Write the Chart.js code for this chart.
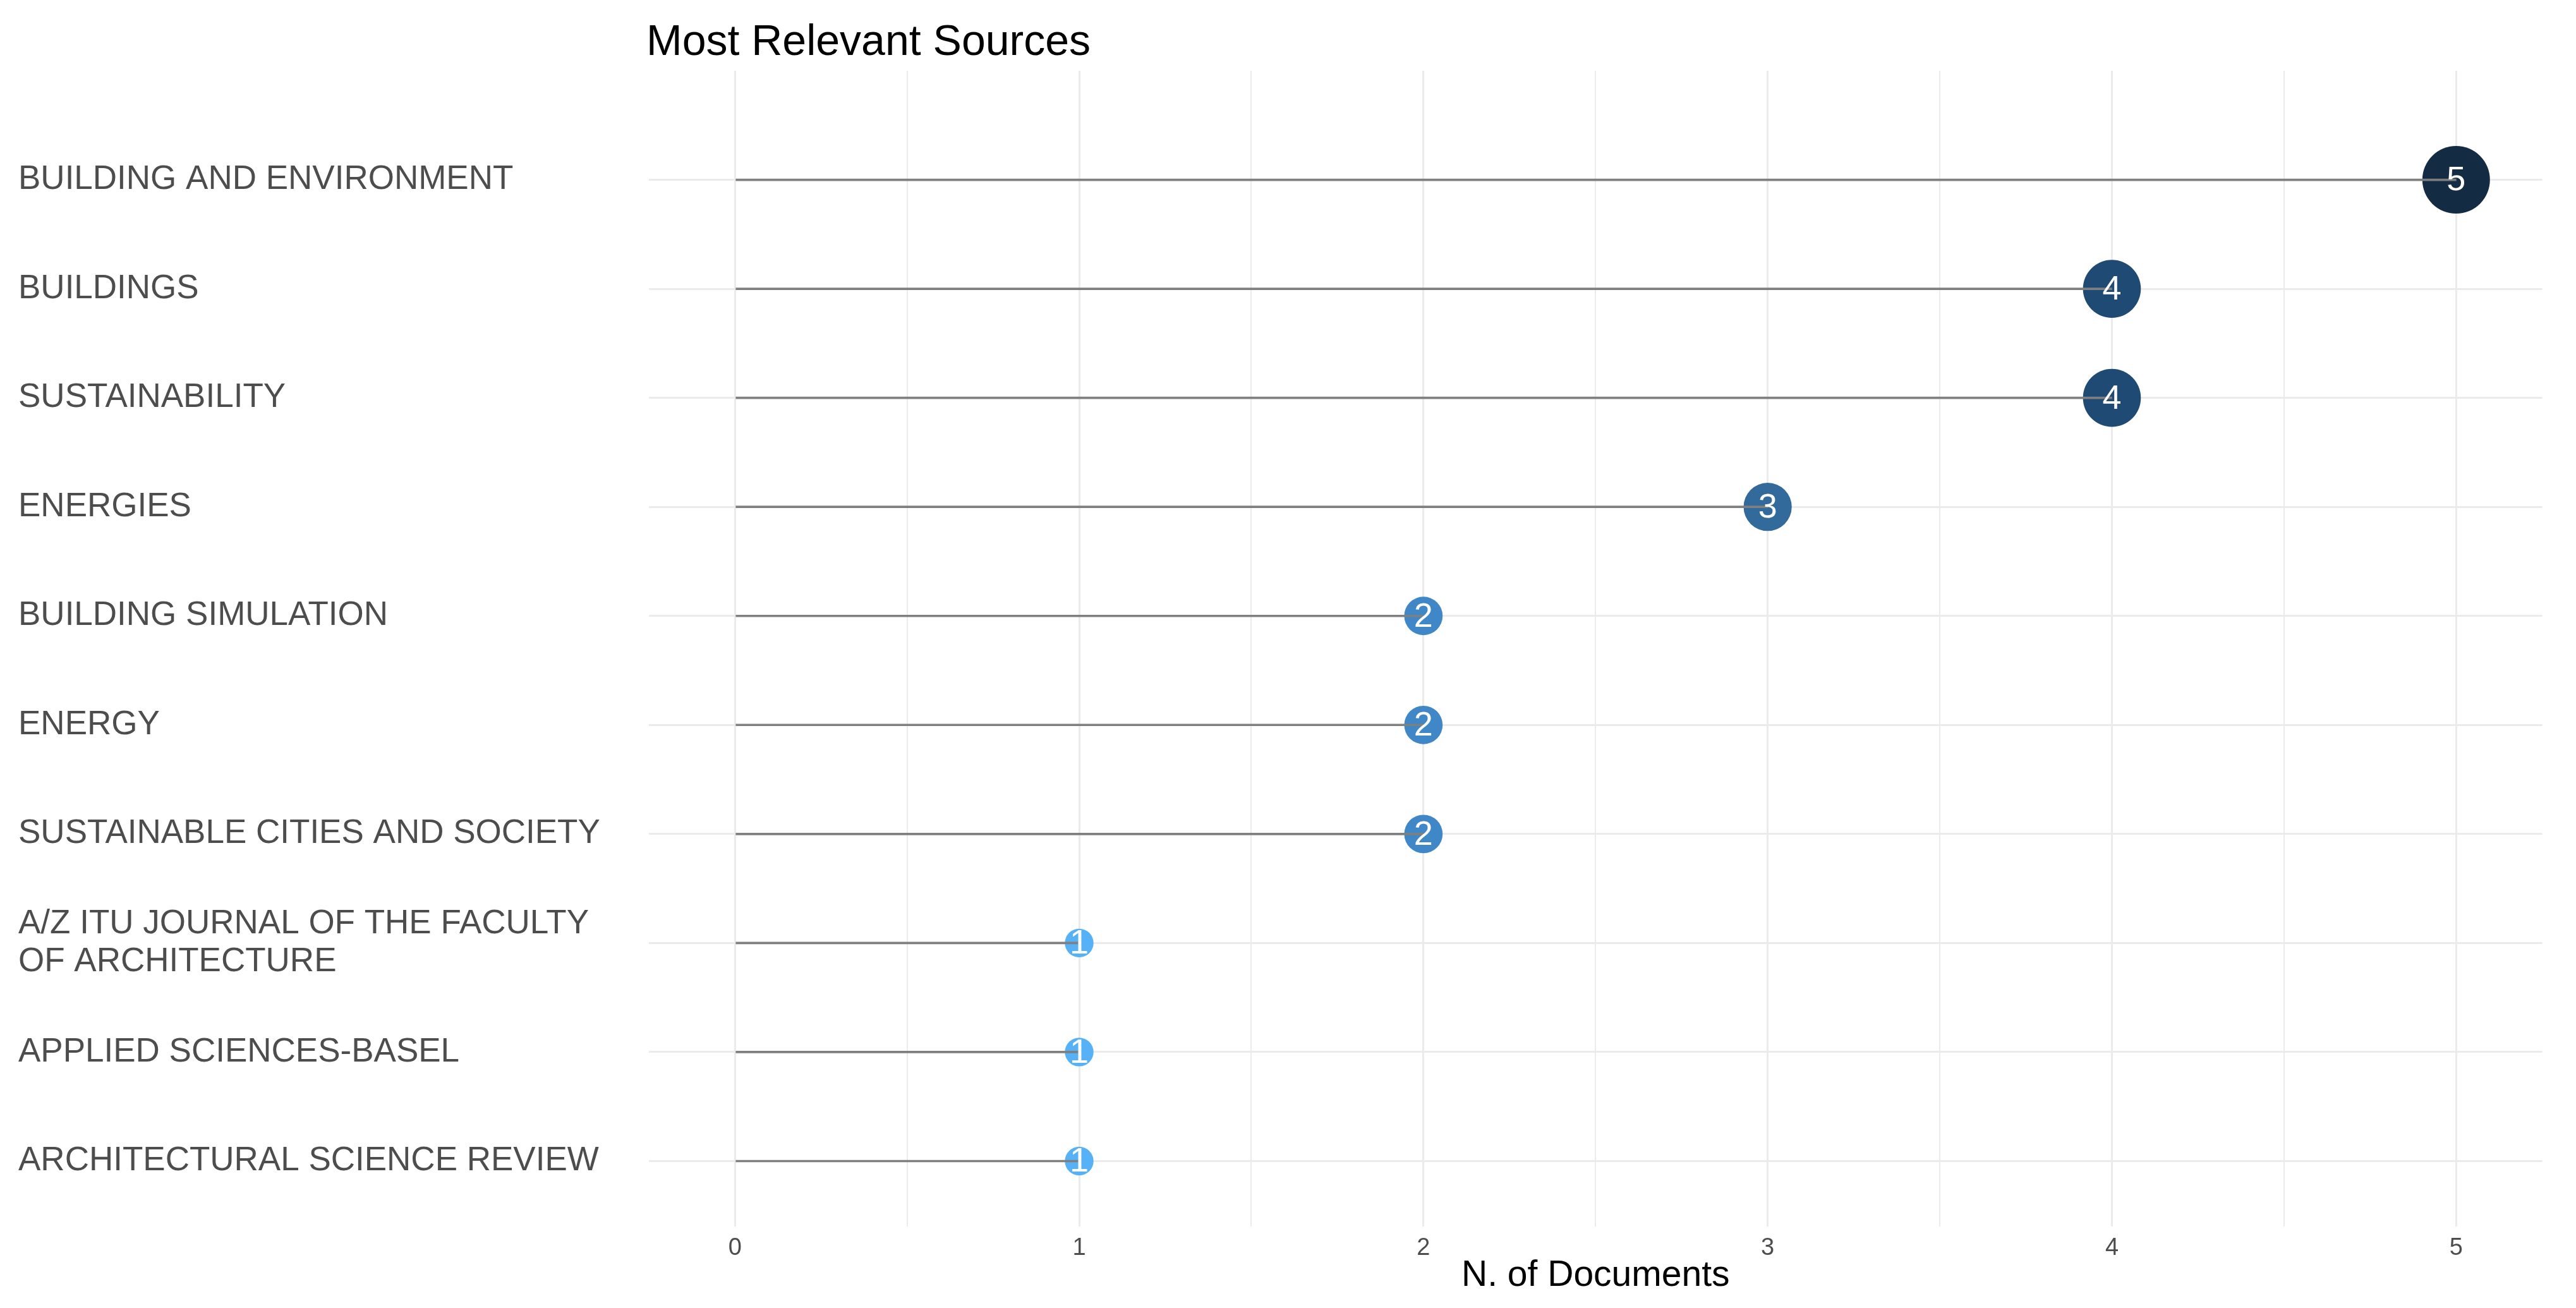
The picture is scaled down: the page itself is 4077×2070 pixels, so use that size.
<!DOCTYPE html>
<html>
<head>
<meta charset="utf-8">
<script src="https://cdn.jsdelivr.net/npm/chart.js@4"></script>
<style>
  html, body { margin: 0; padding: 0; background: #fff; }
  #wrap { width: 4077px; height: 2070px; position: relative; }
</style>
</head>
<body>
<div id="wrap"><canvas id="sourcesChart"></canvas></div>
<script>
// DADOS

const sources = [
    'BUILDING AND ENVIRONMENT',
    'BUILDINGS',
    'SUSTAINABILITY',
    'ENERGIES',
    'BUILDING SIMULATION',
    'ENERGY',
    'SUSTAINABLE CITIES AND SOCIETY',
    ['A/Z ITU JOURNAL OF THE FACULTY', 'OF ARCHITECTURE'],
    'APPLIED SCIENCES-BASEL',
    'ARCHITECTURAL SCIENCE REVIEW'
];

const documents = [5, 4, 4, 3, 2, 2, 2, 1, 1, 1];

const xTicks = [0, 1, 2, 3, 4, 5];

const chartTitle = 'Most Relevant Sources';
const xTitle = 'N. of Documents';

// ESTILO

const FONT = '"Liberation Sans", Arial, sans-serif';
const GRID = '#EBEBEB';

// cor do ponto conforme o valor (escuro = mais documentos)
const pointColours = { 1: '#56B1F7', 2: '#3F87C6', 3: '#316A9B', 4: '#1F4A73', 5: '#132B43' };

function pointSize(v) {
    return 15 + 7.7 * v;
}

// grade com linhas menores entre os ticks
const gridValues = [];
xTicks.forEach((t, i) => {
    gridValues.push(t);
    if (i < xTicks.length - 1) gridValues.push((t + xTicks[i + 1]) / 2);
});

const points = documents.map((v, i) => ({ x: v, y: i }));

// TITULO E RÓTULOS

const titlePlugin = {
    id: 'plotTitle',
    afterDraw(chart) {
        const c = chart.ctx;
        c.save();
        c.font = `68px ${FONT}`;
        c.fillStyle = '#000';
        c.textAlign = 'left';
        c.textBaseline = 'alphabetic';
        c.fillText(chartTitle, chart.chartArea.left - 4, 87);
        c.restore();
    }
};

const valueLabels = {
    id: 'valueLabels',
    afterDatasetsDraw(chart) {
        const meta = chart.getDatasetMeta(1);
        const c = chart.ctx;
        c.save();
        c.font = `54px ${FONT}`;
        c.fillStyle = '#fff';
        c.textAlign = 'center';
        c.textBaseline = 'middle';
        meta.data.forEach((el, i) => {
            c.fillText(String(documents[i]), el.x, el.y + 2);
        });
        c.restore();
    }
};

// GRÁFICO

new Chart(document.getElementById('sourcesChart'), {
    type: 'bar',
    data: {
        datasets: [
            {
                type: 'bar',
                data: points,
                backgroundColor: '#7F7F7F',
                borderWidth: 0,
                barThickness: 3
            },
            {
                type: 'scatter',
                data: points,
                pointRadius: ctx => ctx.raw ? pointSize(ctx.raw.x) : 0,
                pointHoverRadius: ctx => ctx.raw ? pointSize(ctx.raw.x) : 0,
                pointBackgroundColor: ctx => ctx.raw ? pointColours[ctx.raw.x] : '#000',
                pointBorderWidth: 0,
                clip: false
            }
        ]
    },
    options: {
        indexAxis: 'y',
        responsive: true,
        maintainAspectRatio: false,
        animation: false,
        events: [],
        layout: { padding: { left: 29, right: 45, top: 112, bottom: 22 } },
        plugins: {
            legend: { display: false },
            tooltip: { enabled: false }
        },
        scales: {
            x: {
                type: 'linear',
                min: -0.25,
                max: 5.25,
                offset: false,
                beginAtZero: false,
                afterBuildTicks: s => { s.ticks = gridValues.map(v => ({ value: v })); },
                grid: {
                    offset: false,
                    color: GRID,
                    lineWidth: ctx => (ctx.tick && !Number.isInteger(ctx.tick.value)) ? 2 : 3,
                    drawTicks: false
                },
                border: { display: false },
                ticks: {
                    autoSkip: false,
                    maxRotation: 0,
                    padding: 16,
                    color: '#4D4D4D',
                    font: { family: FONT, size: 38, lineHeight: 1 },
                    callback: v => Number.isInteger(v) ? String(v) : ''
                },
                title: {
                    display: true,
                    text: xTitle,
                    color: '#000',
                    font: { family: FONT, size: 57, lineHeight: 1 },
                    padding: { top: -20, bottom: 0 }
                }
            },
            y: {
                type: 'linear',
                reverse: true,
                min: -1,
                max: 9.6,
                offset: false,
                afterBuildTicks: s => { s.ticks = sources.map((_, i) => ({ value: i })); },
                afterFit: s => { s.width = 998; },
                grid: { offset: false, color: GRID, lineWidth: 3, drawTicks: false },
                border: { display: false },
                ticks: {
                    autoSkip: false,
                    crossAlign: 'far',
                    padding: 0,
                    color: '#4D4D4D',
                    font: { family: FONT, size: 53, lineHeight: 1.15 },
                    callback: v => sources[v]
                }
            }
        }
    },
    plugins: [titlePlugin, valueLabels]
});
</script>
</body>
</html>
